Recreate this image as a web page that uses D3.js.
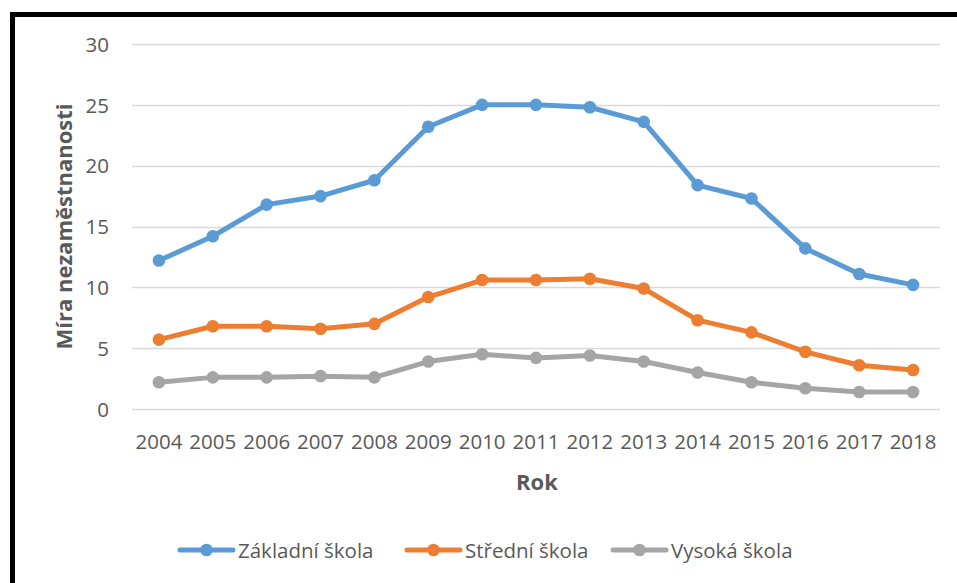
<!DOCTYPE html>
<html>
<head>
<meta charset="utf-8">
<script src="https://cdn.jsdelivr.net/npm/d3@7"></script>
<style>
  html, body { margin: 0; padding: 0; background: #fff; }
  svg { display: block; }
  text { font-family: "Open Sans", "Noto Sans", sans-serif; }
</style>
</head>
<body>
<svg id="chart" width="957" height="583"></svg>
<script>
const years = ["2004","2005","2006","2007","2008","2009","2010","2011","2012","2013","2014","2015","2016","2017","2018"];
const zakladni = [12.2,14.2,16.8,17.5,18.8,23.2,25.0,25.0,24.8,23.6,18.4,17.3,13.2,11.1,10.2];
const stredni  = [5.7,6.8,6.8,6.6,7.0,9.2,10.6,10.6,10.7,9.9,7.3,6.3,4.7,3.6,3.2];
const vysoka   = [2.2,2.6,2.6,2.7,2.6,3.9,4.5,4.2,4.4,3.9,3.0,2.2,1.7,1.4,1.4];
const seriesNames = ["Základní škola","Střední škola","Vysoká škola"];
const seriesColors = ["#5B9BD5","#ED7D31","#A5A5A5"];
const yTicks = [0,5,10,15,20,25,30];
const yTitle = "Míra nezaměstnanosti";
const xTitle = "Rok";

const series = [zakladni, stredni, vysoka].map((vals, i) => ({name: seriesNames[i], color: seriesColors[i], values: vals}));

const svg = d3.select("#chart");
const pLeft = 132, pRight = 940, pTop = 44, pBottom = 409;

const x = d3.scaleBand().domain(years).range([pLeft, pRight]).padding(0);
const y = d3.scaleLinear().domain([0, 30]).range([pBottom, pTop]);
const cx = d => x(d) + x.bandwidth() / 2;

// border
svg.append("rect").attr("x", 12.5).attr("y", 14.5).attr("width", 1000).attr("height", 1000)
  .attr("fill", "none").attr("stroke", "#000").attr("stroke-width", 5);

// gridlines
svg.append("g").selectAll("line").data(yTicks).join("line")
  .attr("x1", pLeft).attr("x2", pRight)
  .attr("y1", d => Math.round(y(d)) + 0.5).attr("y2", d => Math.round(y(d)) + 0.5)
  .attr("stroke", "#D9D9D9").attr("stroke-width", 1.3);

// y axis labels
const yAxis = d3.axisLeft(y).tickValues(yTicks).tickSize(0).tickPadding(0);
const gy = svg.append("g").attr("transform", `translate(109,0)`).call(yAxis);
gy.select(".domain").remove();
gy.selectAll("text").attr("font-size", 20.5).attr("fill", "#595959")
  .attr("font-family", '"Open Sans", sans-serif').attr("dy", "0.35em");

// x axis labels
const xAxis = d3.axisBottom(x).tickSize(0).tickPadding(0);
const gx = svg.append("g").attr("transform", `translate(0,${pBottom})`).call(xAxis);
gx.select(".domain").remove();
gx.selectAll("text").attr("font-size", 20.5).attr("fill", "#595959")
  .attr("font-family", '"Open Sans", sans-serif').attr("y", 40).attr("dy", 0);

// titles
svg.append("text").attr("transform", `translate(72,${(pTop + pBottom) / 2}) rotate(-90)`)
  .attr("text-anchor", "middle").attr("font-size", 22).attr("font-weight", "bold")
  .attr("fill", "#595959").text(yTitle);
svg.append("text").attr("x", (pLeft + pRight) / 2 + 1).attr("y", 490)
  .attr("text-anchor", "middle").attr("font-size", 22).attr("font-weight", "bold")
  .attr("fill", "#595959").text(xTitle);

// lines
const line = d3.line().x((d, i) => cx(years[i])).y(d => y(d));
const gs = svg.append("g").selectAll("g").data(series).join("g");
gs.append("path").attr("d", d => line(d.values)).attr("fill", "none")
  .attr("stroke", d => d.color).attr("stroke-width", 5).attr("stroke-linejoin", "round");
gs.each(function(s) {
  d3.select(this).selectAll("circle").data(s.values).join("circle")
    .attr("cx", (d, i) => cx(years[i])).attr("cy", d => y(d)).attr("r", 6.3)
    .attr("fill", s.color);
});

// legend
const legendX = [180, 407, 613];
const lg = svg.append("g").selectAll("g").data(series).join("g")
  .attr("transform", (d, i) => `translate(${legendX[i]},550)`);
lg.append("line").attr("x1", 0).attr("x2", 53).attr("y1", 0).attr("y2", 0)
  .attr("stroke", d => d.color).attr("stroke-width", 5).attr("stroke-linecap", "round");
lg.append("circle").attr("cx", 26.5).attr("cy", 0).attr("r", 6.3).attr("fill", d => d.color);
lg.append("text").attr("x", 58).attr("y", 7.5).attr("font-size", 20.5).attr("fill", "#595959")
  .text(d => d.name);
</script>
</body>
</html>
